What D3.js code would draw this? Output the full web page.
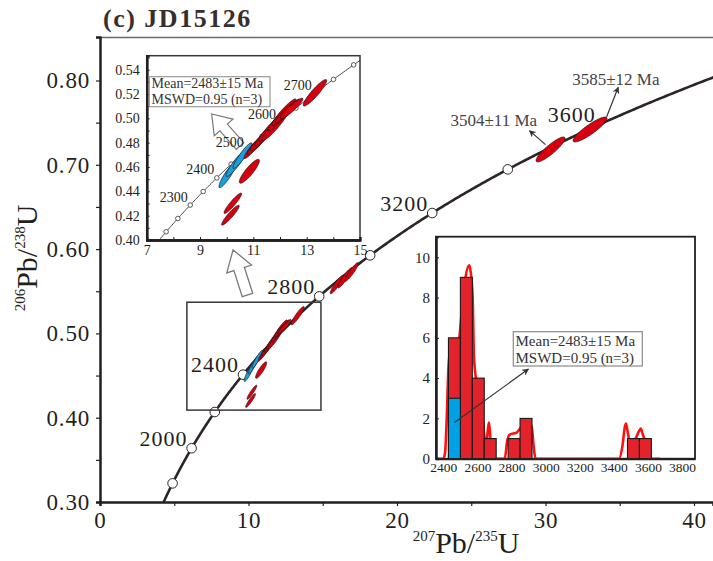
<!DOCTYPE html>
<html>
<head>
<meta charset="utf-8">
<script src="https://cdn.jsdelivr.net/npm/d3@7"></script>
<style>
  body { margin: 0; background: #fff; }
  svg { display: block; }
  text { font-family: "Liberation Serif", "Times New Roman", "DejaVu Serif", serif; fill: #231f20; }
</style>
</head>
<body>
<svg id="chart"></svg>
<script>
const width = 713;
const height = 561;

// concordia ages (Ma) - markers visible on the main curve
const mainMarkAges = [1800, 2000, 2200, 2400, 2800, 3000, 3200, 3400];
const mainLabelAges = [2000, 2400, 2800, 3200, 3600];
const insetMarkAges = [2150, 2200, 2250, 2300, 2350, 2400, 2450, 2500, 2550, 2600, 2650, 2700, 2750, 2800, 2850];
const insetLabelAges = [2300, 2400, 2500, 2600, 2700];

// spot analyses: 207Pb/235U, 206Pb/238U, half widths, error correlation
const spotX   = [10.14, 10.23, 10.85, 10.03, 10.35, 10.59, 10.99, 11.15, 11.29, 11.53, 11.65, 11.81, 12.05, 12.15, 12.28, 12.43, 13.31, 15.95, 16.5, 16.95, 30.34, 33.0];
const spotY   = [0.4204, 0.4302, 0.4565, 0.4533, 0.4628, 0.4693, 0.4759, 0.479, 0.4824, 0.4885, 0.492, 0.4938, 0.502, 0.505, 0.506, 0.508, 0.521, 0.558, 0.566, 0.573, 0.7182, 0.7419];
const spotSX  = [0.33, 0.33, 0.375, 0.32, 0.375, 0.356, 0.34, 0.38, 0.41, 0.47, 0.45, 0.49, 0.5, 0.45, 0.47, 0.43, 0.44, 0.45, 0.5, 0.45, 0.976, 1.145];
const spotSY  = [0.0082, 0.0084, 0.0098, 0.0103, 0.0106, 0.0106, 0.009, 0.009, 0.009, 0.011, 0.011, 0.0122, 0.0122, 0.011, 0.0098, 0.0086, 0.0109, 0.011, 0.012, 0.011, 0.0148, 0.0148];
const spotRho = [0.93, 0.93, 0.88, 0.9, 0.92, 0.93, 0.93, 0.93, 0.93, 0.94, 0.94, 0.94, 0.95, 0.94, 0.94, 0.93, 0.92, 0.92, 0.92, 0.92, 0.89, 0.89];
const spotInMean = [0, 0, 0, 1, 1, 1, 0, 0, 0, 0, 0, 0, 0, 0, 0, 0, 0, 0, 0, 0, 0, 0];

// histogram of ages
const binStart = [2430, 2500, 2570, 2640, 2780, 2850, 3480, 3550];
const binCount = [6, 9, 4, 1, 1, 2, 1, 1];
const binMeanCount = [3, 0, 0, 0, 0, 0, 0, 0];
const binWidth = 70;
const kdeAge = [2357, 2400, 2410, 2420, 2430, 2445, 2470, 2490, 2505, 2530, 2552, 2560, 2572, 2580, 2600, 2630, 2650, 2662, 2668, 2674, 2684, 2760, 2775, 2790, 2830, 2860, 2900, 2918, 2930, 2940, 3430, 3450, 3465, 3471, 3480, 3495, 3520, 3550, 3558, 3570, 3600, 3622, 3671];
const kdeDensity = [0, 0, 0.3, 2, 4.5, 5.6, 5.5, 5.8, 7, 9, 9.6, 9.3, 8, 5, 3.5, 2, 0.6, 1.5, 1.8, 1.2, 0, 0, 0.9, 1.2, 1.3, 1.6, 1.8, 1.6, 0.6, 0, 0, 0.6, 1.6, 1.75, 1.4, 0.8, 0.9, 1.4, 1.5, 1.2, 0.5, 0, 0];

const L235 = 9.8485e-4, L238 = 1.55125e-4; // per Ma
const conX = t => Math.exp(L235 * t) - 1;
const conY = t => Math.exp(L238 * t) - 1;

const RED = "#d8000f", BLUE = "#1a9fe0";

const svg = d3.select("#chart").attr("width", width).attr("height", height);
const defs = svg.append("defs");
defs.append("marker").attr("id", "head").attr("viewBox", "0 0 10 10")
  .attr("refX", 9).attr("refY", 5).attr("markerWidth", 7).attr("markerHeight", 7)
  .attr("orient", "auto-start-reverse").attr("markerUnits", "userSpaceOnUse")
  .append("path").attr("d", "M0,0 L10,5 L0,10 L3,5 Z").attr("fill", "#333");

function ellipsePts(i, xs, ys) {
  const pts = [];
  const k = Math.sqrt(1 - spotRho[i] * spotRho[i]);
  for (let a = 0; a < 64; a++) {
    const t = a / 64 * 2 * Math.PI;
    pts.push([xs(spotX[i] + spotSX[i] * Math.cos(t)),
              ys(spotY[i] + spotSY[i] * (spotRho[i] * Math.cos(t) + k * Math.sin(t)))]);
  }
  return d3.line().curve(d3.curveLinearClosed)(pts);
}

function blockArrow(x0, y0, x1, y1, sw, hw, hl) {
  const dx = x1 - x0, dy = y1 - y0, len = Math.hypot(dx, dy);
  const ux = dx / len, uy = dy / len, px = -uy, py = ux;
  const bx = x1 - ux * hl, by = y1 - uy * hl;
  const p = [[x0 + px * sw / 2, y0 + py * sw / 2], [bx + px * sw / 2, by + py * sw / 2],
             [bx + px * hw / 2, by + py * hw / 2], [x1, y1],
             [bx - px * hw / 2, by - py * hw / 2], [bx - px * sw / 2, by - py * sw / 2],
             [x0 - px * sw / 2, y0 - py * sw / 2]];
  return "M" + p.join("L") + "Z";
}

// ---------- main concordia ----------
const x = d3.scaleLinear().domain([0, 41.28]).range([100, 713]);
const y = d3.scaleLinear().domain([0.30, 0.8516]).range([502, 37]);

defs.append("clipPath").attr("id", "mainClip").append("rect")
  .attr("x", 100).attr("y", 37).attr("width", 613).attr("height", 465);

svg.append("text").attr("x", 103).attr("y", 27)
  .style("font-size", "26px").style("font-weight", "bold").style("letter-spacing", "1.5px")
  .style("fill", "#3a2e2c").text("(c) JD15126");

// frame
svg.append("line").attr("x1", 100).attr("x2", 713).attr("y1", 37.5).attr("y2", 37.5)
  .attr("stroke", "#6d6a6a").attr("stroke-width", 1.5);

const yAxis = d3.axisLeft(y).tickValues([0.3, 0.4, 0.5, 0.6, 0.7, 0.8]).tickFormat(d3.format(".2f")).tickSize(4).tickPadding(6);
const gy = svg.append("g").attr("transform", "translate(100,0)").call(yAxis);
gy.selectAll("text").style("font-size", "23px").style("letter-spacing", "0.8px");
svg.append("g").attr("transform", "translate(100,0)")
  .call(d3.axisLeft(y).tickValues([0.35, 0.45, 0.55, 0.65, 0.75]).tickSize(4).tickFormat(""));

const xAxis = d3.axisBottom(x).tickValues([0, 10, 20, 30, 40]).tickFormat(d3.format("d")).tickSize(4).tickPadding(6);
const gx = svg.append("g").attr("transform", "translate(0,502)").call(xAxis);
gx.selectAll("text").style("font-size", "23px").style("letter-spacing", "0.8px");
svg.append("g").attr("transform", "translate(0,502)")
  .call(d3.axisBottom(x).tickValues([5, 15, 25, 35]).tickSize(4).tickFormat(""));
svg.selectAll(".domain").attr("stroke", "#231f20").attr("stroke-width", 2);
svg.selectAll(".tick line").attr("stroke", "#231f20").attr("stroke-width", 1.2);

// axis titles
const xt = svg.append("text").attr("x", 466).attr("y", 553).attr("text-anchor", "middle").style("font-size", "30px");
xt.append("tspan").attr("dy", -12).style("font-size", "15px").text("207");
xt.append("tspan").attr("dy", 12).text("Pb/");
xt.append("tspan").attr("dy", -12).style("font-size", "15px").text("235");
xt.append("tspan").attr("dy", 12).text("U");

const yt = svg.append("text").attr("transform", "translate(37,258) rotate(-90)").attr("text-anchor", "middle").style("font-size", "30px");
yt.append("tspan").attr("dy", -12).style("font-size", "15px").text("206");
yt.append("tspan").attr("dy", 12).text("Pb/");
yt.append("tspan").attr("dy", -12).style("font-size", "15px").text("238");
yt.append("tspan").attr("dy", 12).text("U");

const main = svg.append("g").attr("clip-path", "url(#mainClip)");
const curveAges = d3.range(1600, 3901, 5);
main.append("path")
  .attr("d", d3.line().x(t => x(conX(t))).y(t => y(conY(t)))(curveAges))
  .attr("fill", "none").attr("stroke", "#2b2523").attr("stroke-width", 2.6);
main.selectAll("circle.mk").data(mainMarkAges).join("circle").attr("class", "mk")
  .attr("cx", t => x(conX(t))).attr("cy", t => y(conY(t))).attr("r", 4.8)
  .attr("fill", "#fff").attr("stroke", "#2b2523").attr("stroke-width", 1);
main.selectAll("text.lb").data(mainLabelAges).join("text").attr("class", "lb")
  .attr("x", t => x(conX(t)) - 4).attr("y", t => y(conY(t)) - 2.5)
  .attr("text-anchor", "end").style("font-size", "22px").style("letter-spacing", "1px")
  .text(t => t);

// zoom rectangle
main.append("rect").attr("x", x(5.85)).attr("y", y(0.537))
  .attr("width", x(14.88) - x(5.85)).attr("height", y(0.409) - y(0.537))
  .attr("fill", "none").attr("stroke", "#3a3636").attr("stroke-width", 1.5);

main.selectAll("path.sp").data(d3.range(spotX.length)).join("path").attr("class", "sp")
  .attr("d", i => ellipsePts(i, x, y))
  .attr("fill", i => spotInMean[i] ? BLUE : RED)
  .attr("stroke", "#1a1a1a").attr("stroke-width", 0.7);

// age annotations
svg.append("line").attr("x1", x(30.0)).attr("y1", y(0.7239)).attr("x2", x(28.92)).attr("y2", y(0.7405))
  .attr("stroke", "#333").attr("stroke-width", 1.2).attr("marker-end", "url(#head)");
svg.append("text").attr("x", x(23.6)).attr("y", y(0.7464)).style("font-size", "17px").style("fill", "#444").text("3504±11 Ma");
svg.append("line").attr("x1", x(34.12)).attr("y1", y(0.7571)).attr("x2", x(34.9)).attr("y2", y(0.7919))
  .attr("stroke", "#333").attr("stroke-width", 1.2).attr("marker-end", "url(#head)");
svg.append("text").attr("x", x(31.8)).attr("y", y(0.7951)).style("font-size", "17px").style("fill", "#444").text("3585±12 Ma");

// hollow arrow from zoom rectangle to inset
svg.append("path").attr("d", blockArrow(x(9.93), y(0.5456), x(8.96), y(0.599), 11, 26, 20))
  .attr("fill", "#fff").attr("stroke", "#7a7a7a").attr("stroke-width", 1.3);

// ---------- inset concordia ----------
const ix = d3.scaleLinear().domain([7, 15]).range([146.7, 360]);
const iy = d3.scaleLinear().domain([0.40, 0.5515]).range([240, 55.7]);
defs.append("clipPath").attr("id", "insetClip").append("rect")
  .attr("x", 146.7).attr("y", 55.7).attr("width", 213.3).attr("height", 184.3);

svg.append("rect").attr("x", 146.7).attr("y", 55.7).attr("width", 213.3).attr("height", 184.3)
  .attr("fill", "#fff").attr("stroke", "#3a3636").attr("stroke-width", 1.5);

const inset = svg.append("g");
const giy = inset.append("g").attr("transform", "translate(146.7,0)")
  .call(d3.axisLeft(iy).tickValues(d3.range(0.40, 0.5501, 0.02)).tickFormat(d3.format(".2f")).tickSize(0).tickPadding(7));
giy.selectAll("text").style("font-size", "14px");
inset.append("g").attr("transform", "translate(146.7,0)")
  .call(d3.axisRight(iy).tickValues(d3.range(0.41, 0.5501, 0.01)).tickSize(3).tickFormat(""));
const gix = inset.append("g").attr("transform", "translate(0,240)")
  .call(d3.axisBottom(ix).tickValues([7, 9, 11, 13, 15]).tickFormat(d3.format("d")).tickSize(0).tickPadding(5));
gix.selectAll("text").style("font-size", "14px");
inset.append("g").attr("transform", "translate(0,240)")
  .call(d3.axisTop(ix).tickValues(d3.range(8, 15, 1)).tickSize(3).tickFormat(""));
inset.selectAll(".domain").attr("stroke", "#231f20").attr("stroke-width", 2.4);
inset.selectAll(".tick line").attr("stroke", "#231f20").attr("stroke-width", 1);

const ic = svg.append("g").attr("clip-path", "url(#insetClip)");
ic.append("path")
  .attr("d", d3.line().x(t => ix(conX(t))).y(t => iy(conY(t)))(d3.range(2100, 2900, 5)))
  .attr("fill", "none").attr("stroke", "#333").attr("stroke-width", 0.9);
ic.selectAll("circle").data(insetMarkAges).join("circle")
  .attr("cx", t => ix(conX(t))).attr("cy", t => iy(conY(t))).attr("r", 2.3)
  .attr("fill", "#fff").attr("stroke", "#333").attr("stroke-width", 0.8);

// inset mean box and hollow arrow
ic.append("path").attr("d", blockArrow(ix(10.5), iy(0.4773), ix(9.437), iy(0.5036), 10, 25, 18))
  .attr("fill", "#fff").attr("stroke", "#7a7a7a").attr("stroke-width", 1.2);
ic.selectAll("text.lb").data(insetLabelAges).join("text").attr("class", "lb")
  .attr("x", t => ix(conX(t)) - 2.5).attr("y", t => iy(conY(t)) - 3.5)
  .attr("text-anchor", "end").style("font-size", "14px").text(t => t);
ic.selectAll("path.sp").data(d3.range(spotX.length)).join("path").attr("class", "sp")
  .attr("d", i => ellipsePts(i, ix, iy))
  .attr("fill", i => spotInMean[i] ? BLUE : RED)
  .attr("stroke", "#1a1a1a").attr("stroke-width", 0.7);
ic.append("rect").attr("x", 149.3).attr("y", 76.7).attr("width", 120.7).attr("height", 30)
  .attr("fill", "#fff").attr("stroke", "#9a9a9a").attr("stroke-width", 1.2);
ic.append("text").attr("x", 151.5).attr("y", 88).style("font-size", "14px").style("fill", "#333").text("Mean=2483±15 Ma");
ic.append("text").attr("x", 151.5).attr("y", 103.5).style("font-size", "14px").style("fill", "#333").text("MSWD=0.95 (n=3)");

// ---------- inset histogram ----------
const hx = d3.scaleLinear().domain([2357, 3876]).range([436, 695]);
const hy = d3.scaleLinear().domain([0, 11.02]).range([458.7, 236.7]);
defs.append("clipPath").attr("id", "histClip").append("rect")
  .attr("x", 436).attr("y", 236.7).attr("width", 259).attr("height", 222);

svg.append("rect").attr("x", 436).attr("y", 236.7).attr("width", 259).attr("height", 222)
  .attr("fill", "#fff").attr("stroke", "#231f20").attr("stroke-width", 1.8);
const hist = svg.append("g").attr("clip-path", "url(#histClip)");
hist.append("path")
  .attr("d", d3.line().curve(d3.curveMonotoneX).x((a, i) => hx(a)).y((a, i) => hy(kdeDensity[i]))(kdeAge))
  .attr("fill", "none").attr("stroke", "#ff1010").attr("stroke-width", 2.6);
hist.selectAll("rect.bar").data(binStart).join("rect").attr("class", "bar")
  .attr("x", d => hx(d)).attr("width", d => hx(d + binWidth) - hx(d))
  .attr("y", (d, i) => hy(binCount[i])).attr("height", (d, i) => hy(0) - hy(binCount[i]))
  .attr("fill", "#e2232b").attr("stroke", "#1a1a1a").attr("stroke-width", 1.1);
hist.selectAll("rect.mb").data(binStart.filter((d, i) => binMeanCount[i] > 0)).join("rect").attr("class", "mb")
  .attr("x", d => hx(d)).attr("width", d => hx(d + binWidth) - hx(d))
  .attr("y", d => hy(binMeanCount[binStart.indexOf(d)]))
  .attr("height", d => hy(0) - hy(binMeanCount[binStart.indexOf(d)]))
  .attr("fill", "#00a0e4").attr("stroke", "#1a1a1a").attr("stroke-width", 1.1);

const histAxes = svg.append("g");
histAxes.append("g").attr("transform", "translate(436,0)")
  .call(d3.axisRight(hy).tickValues([0, 2, 4, 6, 8, 10]).tickSize(3).tickFormat(""));
histAxes.append("g").attr("transform", "translate(436,0)")
  .call(d3.axisLeft(hy).tickValues([0, 2, 4, 6, 8, 10]).tickSize(0).tickPadding(6))
  .selectAll("text").style("font-size", "15px");
histAxes.append("g").attr("transform", "translate(0,458.7)")
  .call(d3.axisBottom(hx).tickValues(d3.range(2400, 3801, 200)).tickFormat(d3.format("d")).tickSize(0).tickPadding(4))
  .selectAll("text").style("font-size", "13.5px");
histAxes.selectAll(".domain").attr("stroke", "#231f20").attr("stroke-width", 2);
histAxes.selectAll(".tick line").attr("stroke", "#231f20");

svg.append("line").attr("x1", hx(2465)).attr("y1", hy(1.8)).attr("x2", hx(2899)).attr("y2", hy(4.45))
  .attr("stroke", "#333").attr("stroke-width", 1.1).attr("marker-end", "url(#head)");
svg.append("rect").attr("x", 513.3).attr("y", 331.7).attr("width", 129).attr("height", 34.3)
  .attr("fill", "#fff").attr("stroke", "#8a8a8a").attr("stroke-width", 1.2);
svg.append("text").attr("x", 515.5).attr("y", 345.5).style("font-size", "15px").style("fill", "#333").text("Mean=2483±15 Ma");
svg.append("text").attr("x", 515.5).attr("y", 362.5).style("font-size", "15px").style("fill", "#333").text("MSWD=0.95 (n=3)");
</script>
</body>
</html>
